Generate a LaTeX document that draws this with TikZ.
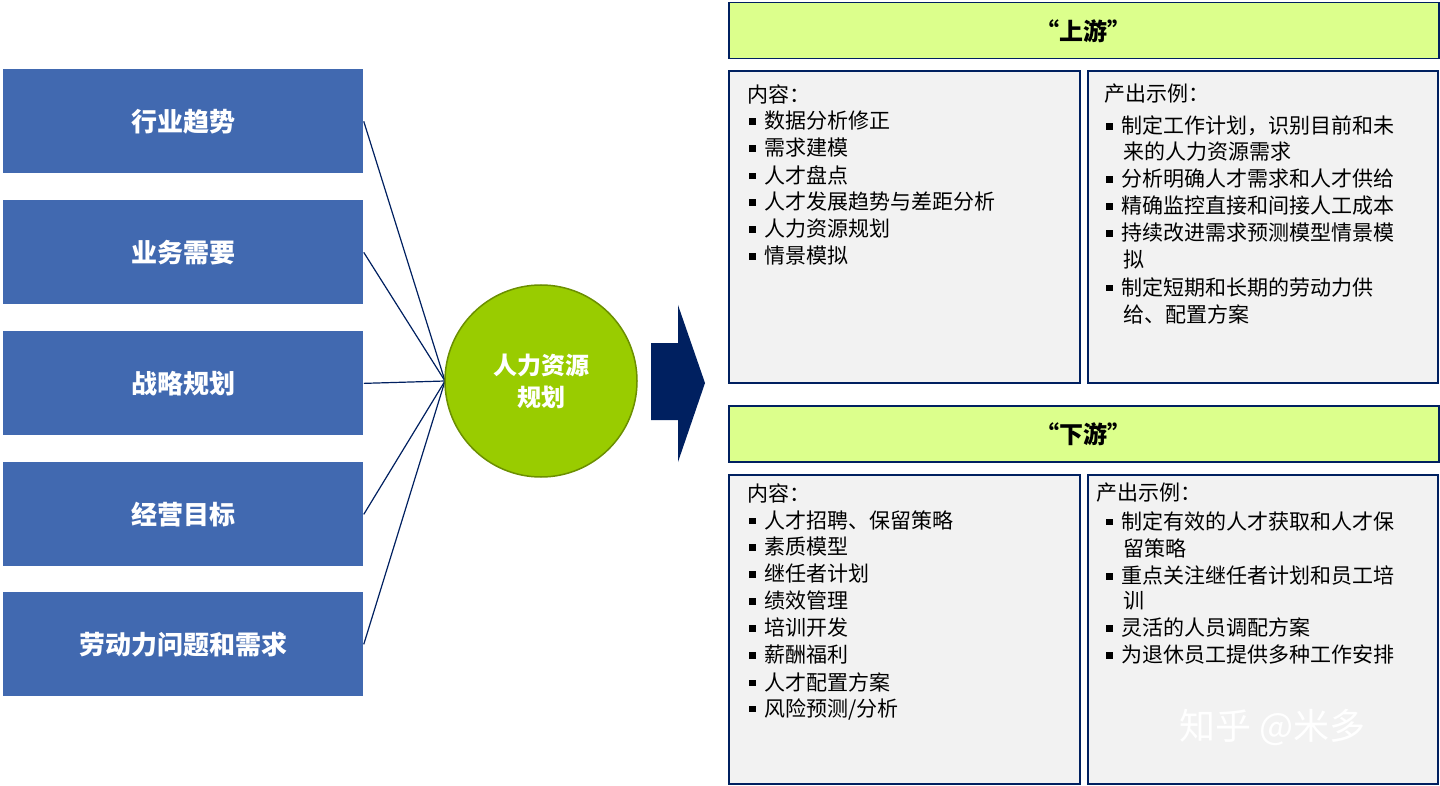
\documentclass[tikz,border=0pt]{standalone}
\usepackage{fontspec}
\setmainfont{Noto Sans CJK SC}
\definecolor{boxblue}{RGB}{65,105,176}
\definecolor{navy}{RGB}{0,32,96}
\definecolor{headgreen}{RGB}{220,255,140}
\definecolor{ballgreen}{RGB}{153,204,0}
\definecolor{panelgray}{RGB}{242,242,242}
\tikzset{every picture/.style={line width=0.75pt}}
\tikzset{
  driver/.style={fill=boxblue,draw=none,text=white,font=\fontsize{26}{30}\selectfont\bfseries},
  header/.style={fill=headgreen,draw=navy,line width=1.5pt,font=\fontsize{24}{28}\selectfont\bfseries},
  panel/.style={fill=panelgray,draw=navy,line width=1.5pt},
  item/.style={anchor=west,inner sep=0pt,font=\fontsize{21}{24}\selectfont},
}
\newcommand{\blt}{\rule[0.2em]{0.3em}{0.3em}\hspace{0.4em}}
\begin{document}
\begin{tikzpicture}[x=1pt,y=1pt,yscale=-1]
	\useasboundingbox (0,0) rectangle (1440,786);

	% drivers on the left
	\foreach \y/\t/\n in {69/行业趋势/d1,200/业务需要/d2,331/战略规划/d3,462/经营目标/d4,592/劳动力问题和需求/d5}
	  \node[driver,minimum width=360,minimum height=104,anchor=north west] (\n) at (3,\y) {\t};

	% centre
	\coordinate (hub) at (445,381);
	\foreach \n in {d1,d2,d3,d4,d5}
	  \draw[navy,line width=1.2pt] (\n.east) -- (hub);
	\node[circle,fill=ballgreen,draw=ballgreen!70!black,line width=1.5pt,minimum size=192,text=white,font=\fontsize{24}{32}\selectfont\bfseries,align=center] (hr) at (541,381) {人力资源\\规划};

	% big arrow
	\fill[navy] (651,343) -- (678,343) -- (678,305) -- (705,383) -- (678,462) -- (678,420) -- (651,420) -- cycle;

	% upstream
	\node[header,minimum width=710,minimum height=56,anchor=north west] (up) at (728,2) {“上游”};
	\draw[panel] (729,71) rectangle (1080,383);
	\draw[panel] (1088,71) rectangle (1438,383);
	% downstream
	\node[header,minimum width=710,minimum height=56,anchor=north west] (down) at (728,405) {“下游”};
	\draw[panel] (729,475) rectangle (1080,784);
	\draw[panel] (1088,475) rectangle (1438,784);

	% texts
	\node[item] at (747,94) {内容：};
	\foreach \t [count=\i] in {数据分析修正,需求建模,人才盘点,人才发展趋势与差距分析,人力资源规划,情景模拟}
	  \node[item] at (749,{94+27*\i}) {\blt\t};
	\node[item] at (1104,94) {产出示例：};
	\foreach \y/\t in {126/{\blt 制定工作计划，识别目前和未},179/{\blt 分析明确人才需求和人才供给},206/{\blt 精确监控直接和间接人工成本},233/{\blt 持续改进需求预测模型情景模},287/{\blt 制定短期和长期的劳动力供}}
	  \node[item] at (1106,\y) {\t};
	\foreach \y/\t in {152/来的人力资源需求,260/拟,314/给、配置方案}
	  \node[item] at (1123,\y) {\t};

	\node[item] at (747,493) {内容：};
	\foreach \t [count=\i] in {人才招聘、保留策略,素质模型,继任者计划,绩效管理,培训开发,薪酬福利,人才配置方案,风险预测/分析}
	  \node[item] at (749,{493+27*\i}) {\blt\t};
	\node[item] at (1096,493) {产出示例：};
	\foreach \y/\t in {521/{\blt 制定有效的人才获取和人才保},576/{\blt 重点关注继任者计划和员工培},628/{\blt 灵活的人员调配方案},655/{\blt 为退休员工提供多种工作安排}}
	  \node[item] at (1106,\y) {\t};
	\foreach \y/\t in {548/留策略,601/训}
	  \node[item] at (1123,\y) {\t};

	% watermark
	\node[anchor=west,text=white,font=\fontsize{36}{40}\selectfont] (wm) at (1176,727) {知乎 @米多};
\end{tikzpicture}
\end{document}
